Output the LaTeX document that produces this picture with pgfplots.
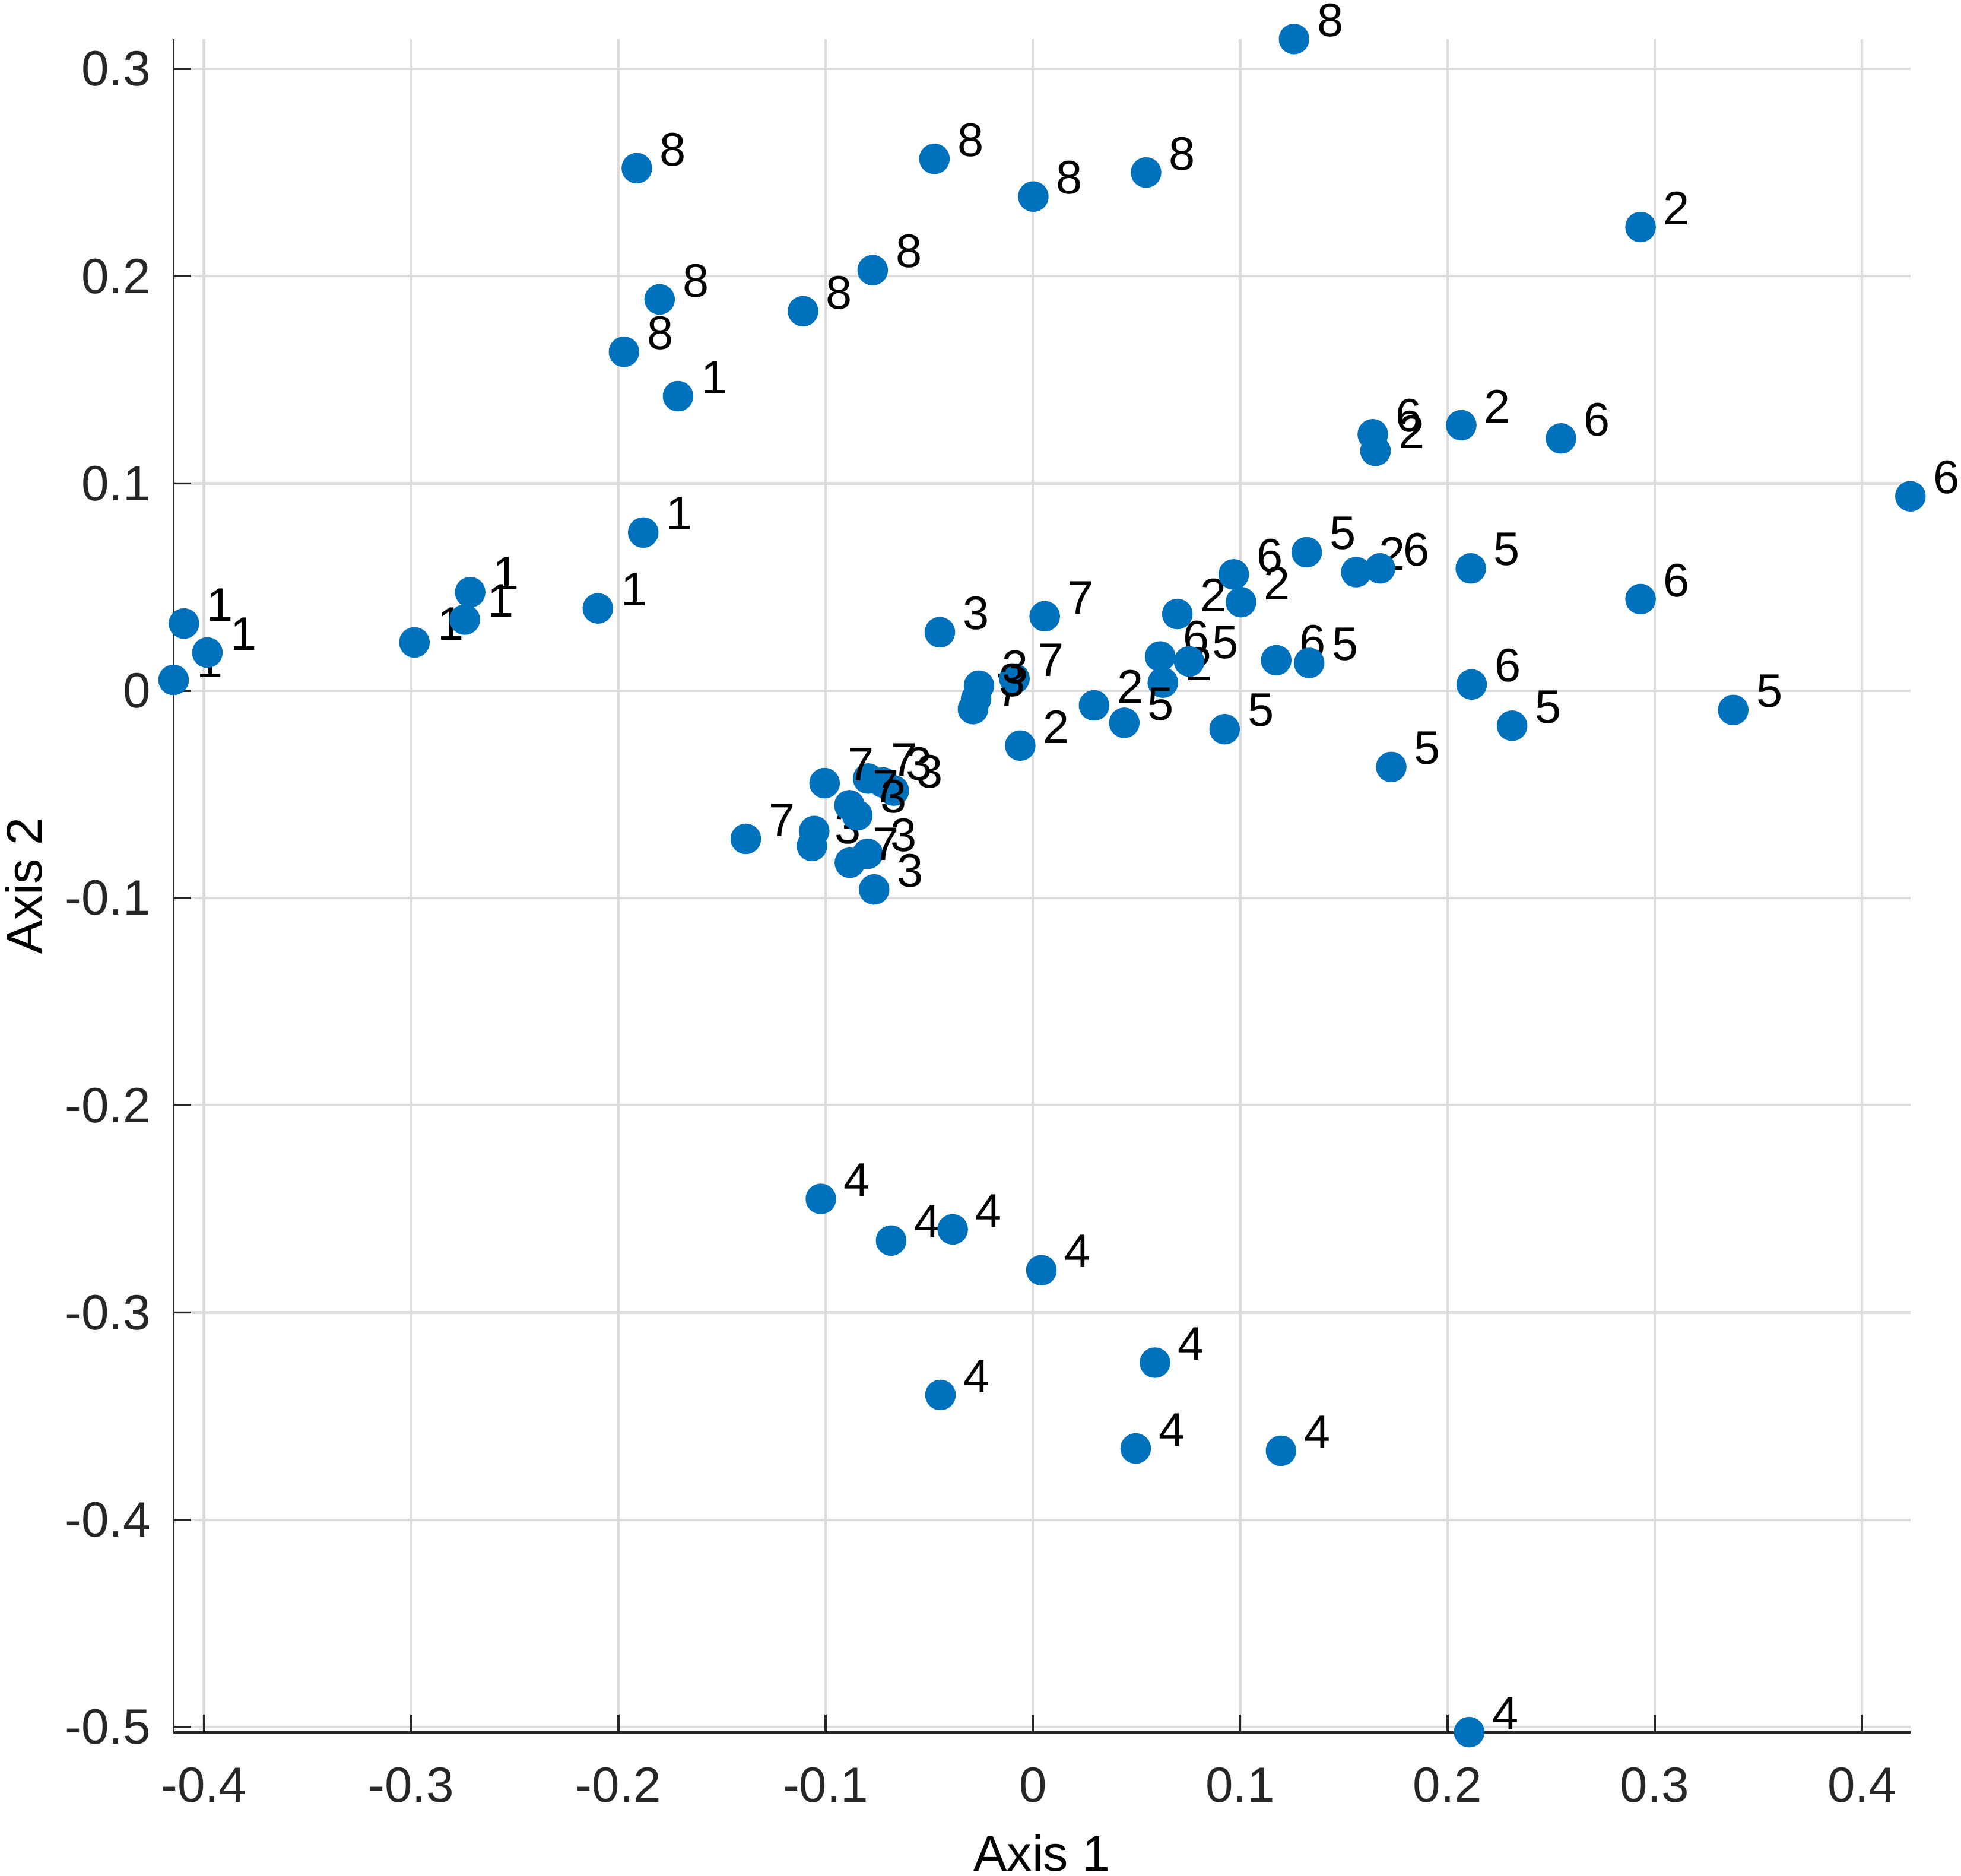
\documentclass[border=0pt]{standalone}
\usepackage{fontspec}
\setmainfont{Liberation Sans}
\usepackage{pgfplots}
\pgfplotsset{compat=1.18}
\definecolor{mblue}{RGB}{0,114,189}
\definecolor{axgray}{RGB}{38,38,38}
\definecolor{gridgray}{RGB}{220,220,220}

\begin{document}
\begin{tikzpicture}
\begin{axis}[
    scale only axis,
    width=346.7pt, height=338pt,
    xmin=-0.4146, xmax=0.4234,
    ymin=-0.5025, ymax=0.3144,
    clip=false,
    axis lines*=left,
    axis line style={axgray, line width=0.45pt},
    tick align=inside,
    major tick length=3.5pt,
    tick style={axgray, line width=0.45pt},
    xtick={-0.4,-0.3,-0.2,-0.1,0,0.1,0.2,0.3,0.4},
    ytick={-0.5,-0.4,-0.3,-0.2,-0.1,0,0.1,0.2,0.3},
    grid=major,
    major grid style={gridgray, line width=0.5pt},
    /pgf/number format/fixed,
    /pgf/number format/precision=1,
    /pgf/number format/assume math mode=true,
    ticklabel style={font=\fontsize{9.9}{12}\selectfont, text=axgray},
    xticklabel style={anchor=north, inner sep=0pt, yshift=-6.9pt},
    yticklabel style={anchor=east, inner sep=0pt, xshift=-4.4pt},
    xlabel={Axis 1}, ylabel={Axis 2},
    label style={font=\fontsize{11}{13}\selectfont, text=axgray},
    every axis x label/.style={at={(axis description cs:0.5,-0.0715)}, anchor=center},
    every axis y label/.style={at={(axis description cs:-0.0862,0.5)}, rotate=90, anchor=center},
]
% columns: axis 1, axis 2, group label
\addplot[only marks, mark=*, mark size=2.85pt, color=mblue,
    mark options={draw=none, fill=mblue},
    nodes near coords, point meta=explicit symbolic,
    every node near coord/.append style={anchor=west, inner sep=0pt,
        xshift=4.4pt, yshift=3.75pt, text=black,
        font=\fontsize{9.4}{11}\selectfont}]
table[meta=lab] {
x y lab
-0.4146 0.0052 1
-0.4096 0.0324 1
-0.3983 0.0184 1
-0.2984 0.0233 1
-0.2741 0.0343 1
-0.2715 0.0475 1
-0.2099 0.0397 1
-0.1880 0.0763 1
-0.1712 0.1421 1
0.1260 0.3144 8
-0.1911 0.2521 8
-0.0475 0.2566 8
0.0002 0.2384 8
0.0546 0.2500 8
-0.0773 0.2029 8
-0.1801 0.1888 8
-0.1109 0.1831 8
-0.1973 0.1635 8
-0.1023 -0.2452 4
-0.0684 -0.2653 4
-0.0387 -0.2599 4
0.0041 -0.2796 4
0.0589 -0.3242 4
-0.0446 -0.3398 4
0.0496 -0.3656 4
0.1197 -0.3667 4
0.2105 -0.5025 4
0.2932 0.2237 2
0.2067 0.1281 2
0.1653 0.1157 2
0.1560 0.0572 2
0.1004 0.0427 2
0.0697 0.0370 2
0.0627 0.0039 2
0.0295 -0.0071 2
-0.0061 -0.0265 2
0.1640 0.1237 6
0.2548 0.1217 6
0.4234 0.0938 6
0.1675 0.0590 6
0.0969 0.0561 6
0.2932 0.0442 6
0.0614 0.0165 6
0.1174 0.0147 6
0.2117 0.0030 6
0.1321 0.0668 5
0.2113 0.0590 5
0.1333 0.0134 5
0.0754 0.0141 5
0.0441 -0.0155 5
0.0925 -0.0186 5
0.2312 -0.0169 5
0.1729 -0.0368 5
0.3379 -0.0093 5
-0.1055 -0.0677 7
-0.1066 -0.0749 3
-0.0723 -0.0443 3
-0.0671 -0.0482 3
-0.0797 -0.0787 3
-0.0795 -0.0424 7
-0.1005 -0.0446 7
-0.1385 -0.0715 7
-0.0885 -0.0553 7
-0.0847 -0.0601 3
-0.0883 -0.0830 7
-0.0766 -0.0959 3
-0.0449 0.0282 3
0.0057 0.0359 7
-0.0289 -0.0089 7
-0.0089 0.0058 7
-0.0260 0.0024 3
-0.0274 -0.0040 3
};
\end{axis}
\pgfresetboundingbox
\path[use as bounding box] ([xshift=-34.65pt,yshift=-28.6pt]current axis.south west) rectangle ([xshift=10.1pt,yshift=7.8pt]current axis.north east);
\end{tikzpicture}
\end{document}
